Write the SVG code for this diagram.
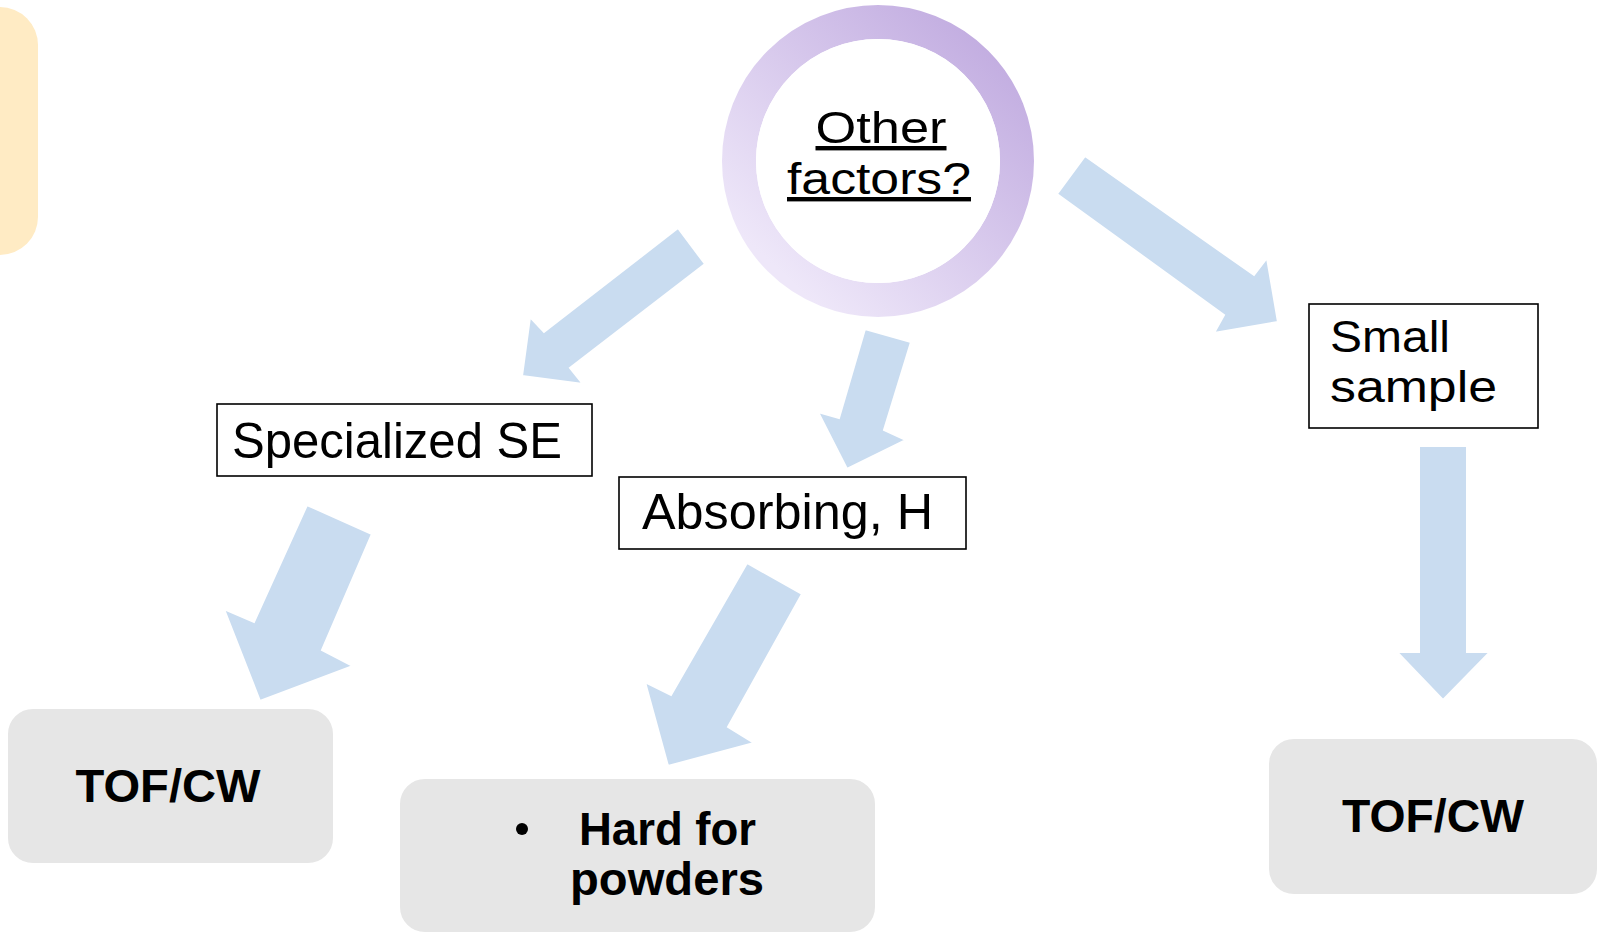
<svg xmlns="http://www.w3.org/2000/svg" width="1603" height="934" viewBox="0 0 1603 934">
  <defs>
    <linearGradient id="ringGrad" x1="0.15" y1="0.9" x2="0.9" y2="0.1">
      <stop offset="0" stop-color="#EEE7F9"/>
      <stop offset="1" stop-color="#C3AEE1"/>
    </linearGradient>
    <style>
      .arrow { fill: #C9DCF0; stroke: #FFFFFF; stroke-width: 2; }
      .label { fill: #FFFFFF; stroke: #000000; stroke-width: 1.6; }
      .labelText { font-family: "Liberation Sans", Arial, sans-serif; font-size: 50px; fill: #000000; }
      .smallText { font-family: "Liberation Sans", Arial, sans-serif; font-size: 44px; fill: #000000; }
      .result { fill: #E6E6E6; stroke: #FFFFFF; stroke-width: 2; }
      .resultText { font-family: "Liberation Sans", Arial, sans-serif; font-size: 47px; font-weight: bold; fill: #000000; }
      .circleText { font-family: "Liberation Sans", Arial, sans-serif; font-size: 44px; fill: #000000; text-decoration: underline; }
    </style>
  </defs>
  <rect width="1603" height="934" fill="#FFFFFF"/>

  <g id="side-tab">
    <rect x="-40" y="7" width="78" height="248" rx="38" ry="38" fill="#FFEBC4"/>
  </g>

  <g id="connectors">
    <polygon class="arrow" points="678,228 705,264 570,368 583,384 522,376 530,317 544,332"/>
    <polygon class="arrow" points="1085,156 1254,275 1267,258 1278,322 1214,333 1224,315 1057,194"/>
    <polygon class="arrow" points="865,329 911,342 884,430 906,440 847,469 818,412 839,418"/>
    <polygon class="arrow" points="307,505 372,534 322,650 353,666 260,701 224,609 254,622"/>
    <polygon class="arrow" points="747,563 802,594 728,727 754,743 668,766 645,682 671,695"/>
    <polygon class="arrow" points="1419,446 1467,446 1467,652 1490,652 1443,700 1397,652 1419,652"/>
  </g>

  <g id="node-other-factors">
    <circle cx="878" cy="161" r="139" fill="none" stroke="url(#ringGrad)" stroke-width="34"/>
    <circle cx="878" cy="161" r="122" fill="#FFFFFF"/>
    <text class="circleText" x="881" y="143" text-anchor="middle" textLength="131" lengthAdjust="spacingAndGlyphs">Other</text>
    <text class="circleText" x="879" y="194" text-anchor="middle" textLength="184" lengthAdjust="spacingAndGlyphs">factors?</text>
  </g>

  <g id="node-specialized-se">
    <rect class="label" x="217" y="404" width="375" height="72"/>
    <text class="labelText" x="232" y="458" textLength="330" lengthAdjust="spacingAndGlyphs">Specialized SE</text>
  </g>

  <g id="node-absorbing-h">
    <rect class="label" x="619" y="477" width="347" height="72"/>
    <text class="labelText" x="642" y="529" textLength="291" lengthAdjust="spacingAndGlyphs">Absorbing, H</text>
  </g>

  <g id="node-small-sample">
    <rect class="label" x="1309" y="304" width="229" height="124"/>
    <text class="smallText" x="1330" y="352" textLength="120" lengthAdjust="spacingAndGlyphs">Small</text>
    <text class="smallText" x="1330" y="402" textLength="167" lengthAdjust="spacingAndGlyphs">sample</text>
  </g>

  <g id="node-tofcw-left">
    <rect class="result" x="7" y="708" width="327" height="156" rx="26" ry="26"/>
    <text class="resultText" x="168" y="802" text-anchor="middle" textLength="185" lengthAdjust="spacingAndGlyphs">TOF/CW</text>
  </g>

  <g id="node-hard-for-powders">
    <rect class="result" x="399" y="778" width="477" height="155" rx="26" ry="26"/>
    <circle cx="522" cy="829" r="6" fill="#000000"/>
    <text class="resultText" x="579" y="845" textLength="177" lengthAdjust="spacingAndGlyphs">Hard for</text>
    <text class="resultText" x="570" y="895" textLength="194" lengthAdjust="spacingAndGlyphs">powders</text>
  </g>

  <g id="node-tofcw-right">
    <rect class="result" x="1268" y="738" width="330" height="157" rx="26" ry="26"/>
    <text class="resultText" x="1433" y="832" text-anchor="middle" textLength="182" lengthAdjust="spacingAndGlyphs">TOF/CW</text>
  </g>
</svg>
